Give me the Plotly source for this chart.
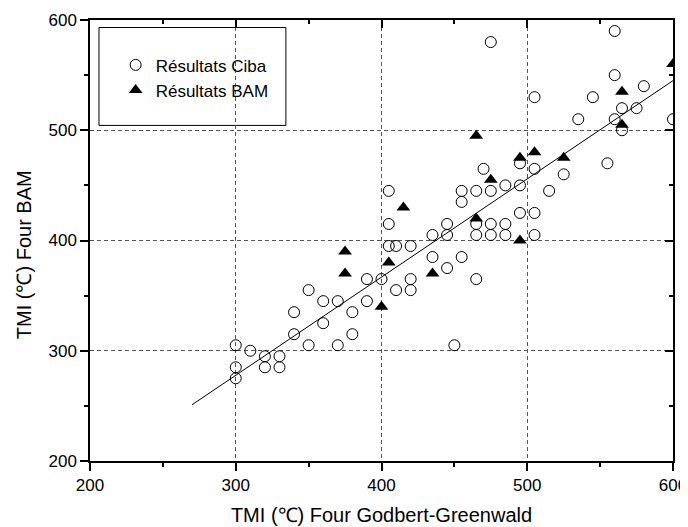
import plotly.graph_objects as go

# Résultats Ciba (open circles)
ciba_x = [300, 300, 300, 310, 320, 320, 330, 330, 340, 340, 350, 350, 360, 360,
          370, 370, 380, 380, 390, 390, 400, 405, 405, 405, 410, 410, 420, 420,
          420, 435, 435, 445, 445, 445, 450, 455, 455, 455, 465, 465, 465, 465,
          470, 475, 475, 475, 475, 485, 485, 485, 495, 495, 495, 505, 505, 505,
          505, 515, 525, 535, 545, 555, 560, 560, 560, 565, 565, 575, 580, 600]
ciba_y = [305, 285, 275, 300, 295, 285, 295, 285, 335, 315, 355, 305, 345, 325,
          345, 305, 335, 315, 365, 345, 365, 445, 415, 395, 395, 355, 395, 365,
          355, 405, 385, 415, 405, 375, 305, 445, 435, 385, 445, 415, 405, 365,
          465, 580, 445, 415, 405, 450, 415, 405, 470, 450, 425, 530, 465, 425,
          405, 445, 460, 510, 530, 470, 590, 550, 510, 520, 500, 520, 540, 510]

# Résultats BAM (filled triangles)
bam_x = [375, 375, 400, 405, 415, 435, 465, 465, 475, 495, 495, 505, 525, 565, 565, 600]
bam_y = [390, 370, 340, 380, 430, 370, 495, 420, 455, 475, 400, 480, 475, 535, 505, 560]

# Fitted line end points
fit_x = [270, 600]
fit_y = [251, 545]

x_range = [200, 600]
y_range = [200, 600]
tick_vals = [200, 300, 400, 500, 600]

x_title = "TMI (℃) Four Godbert-Greenwald"
y_title = "TMI (℃) Four BAM"

FONT = "Liberation Sans, Arial, sans-serif"
GRID_DASH = "4px,3px"

fig = go.Figure()
fig.add_trace(go.Scatter(
    x=fit_x, y=fit_y, mode="lines", showlegend=False,
    line=dict(color="black", width=1)))
fig.add_trace(go.Scatter(
    x=ciba_x, y=ciba_y, mode="markers", name="Résultats Ciba",
    marker=dict(symbol="circle-open", size=11, color="black",
                line=dict(width=1, color="black"))))
fig.add_trace(go.Scatter(
    x=bam_x, y=bam_y, mode="markers", name="Résultats BAM",
    marker=dict(symbol="triangle-up", size=12, color="black",
                line=dict(width=0))))
# empty trace to attach the mirrored (top/right) axes
fig.add_trace(go.Scatter(x=[], y=[], xaxis="x2", yaxis="y2", showlegend=False,
                         hoverinfo="skip"))

fig.update_layout(
    width=688, height=527,
    margin=dict(l=82, r=23, t=12, b=74, autoexpand=False),
    paper_bgcolor="white", plot_bgcolor="white",
    font=dict(family=FONT, size=17, color="black"),
    xaxis=dict(
        range=x_range, tickvals=tick_vals, showline=True, mirror=True,
        linecolor="black", linewidth=1.5, zeroline=False, automargin=False,
        ticks="outside", ticklen=8, tickwidth=1.5, tickcolor="black",
        minor=dict(ticks="outside", ticklen=4, dtick=50, tickwidth=1.5,
                   tickcolor="black", showgrid=False),
        showgrid=True, gridcolor="#555555", griddash=GRID_DASH, gridwidth=1,
        tickfont=dict(size=17),
        title=dict(text=x_title, font=dict(size=20), standoff=14),
    ),
    yaxis=dict(
        range=y_range, tickvals=tick_vals, showline=True, mirror=True,
        linecolor="black", linewidth=1.5, zeroline=False, automargin=False,
        ticks="outside", ticklen=8, tickwidth=1.5, tickcolor="black",
        minor=dict(ticks="outside", ticklen=4, dtick=50, tickwidth=1.5,
                   tickcolor="black", showgrid=False),
        showgrid=True, gridcolor="#555555", griddash=GRID_DASH, gridwidth=1,
        tickfont=dict(size=17),
    ),
    xaxis2=dict(
        overlaying="x", side="top", range=x_range, tickvals=tick_vals,
        showticklabels=False, showgrid=False, zeroline=False, showline=False,
        automargin=False,
        ticks="inside", ticklen=8, tickwidth=1.5, tickcolor="black",
        minor=dict(ticks="inside", ticklen=4, dtick=50, tickwidth=1.5,
                   tickcolor="black", showgrid=False),
    ),
    yaxis2=dict(
        overlaying="y", side="right", range=y_range, tickvals=tick_vals,
        showticklabels=False, showgrid=False, zeroline=False, showline=False,
        automargin=False,
        ticks="inside", ticklen=8, tickwidth=1.5, tickcolor="black",
        minor=dict(ticks="inside", ticklen=4, dtick=50, tickwidth=1.5,
                   tickcolor="black", showgrid=False),
    ),
    legend=dict(
        x=0.044, y=0.938, xanchor="left", yanchor="top",
        bgcolor="rgba(0,0,0,0)", borderwidth=0,
        font=dict(size=17), tracegroupgap=0,
    ),
    annotations=[dict(text=y_title, xref="paper", yref="paper",
                      x=-0.113, y=0.467, textangle=-90, showarrow=False,
                      xanchor="center", yanchor="middle",
                      font=dict(size=20))],
    shapes=[dict(type="rect", xref="paper", yref="paper",
                 x0=0.0154, x1=0.336, y0=0.761, y1=0.983,
                 line=dict(color="black", width=1), fillcolor="white",
                 layer="below")],
)

fig.write_html("out.html")
